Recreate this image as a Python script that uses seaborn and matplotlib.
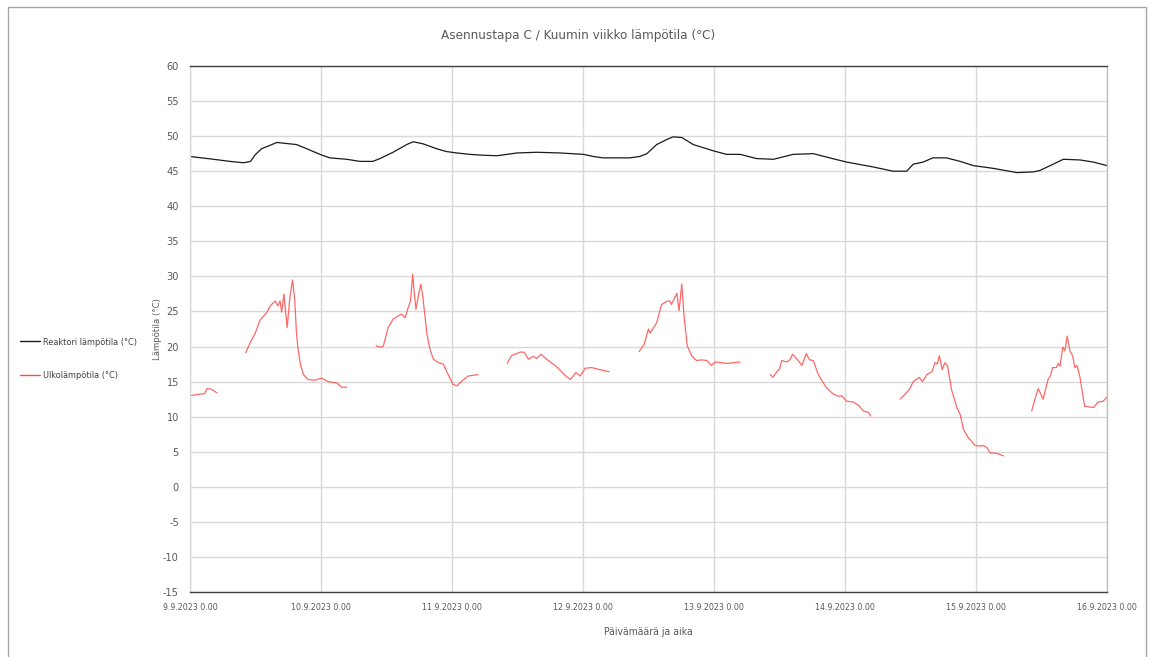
import matplotlib
matplotlib.use("Agg")
import matplotlib.pyplot as plt
import matplotlib.dates as mdates
from matplotlib import font_manager
from matplotlib.lines import Line2D
from matplotlib.patches import Rectangle
import pandas as pd
import seaborn as sns

# Start of the measurement week
START = pd.Timestamp("2023-09-09 00:00")

# Reactor temperature: hours since start and °C
reactor_hours = [0, 4.3, 7.3, 9.8, 11.1, 11.9, 13.1, 14.7, 15.9, 18.3, 19.5, 21.4, 23.8,
                 25.6, 28.7, 31.1, 33.5, 34.8, 37.2, 39.7, 40.9, 42.7, 45.2, 47.0, 48.9,
                 51.3, 53.1, 56.2, 59.9, 63.5, 67.8, 72.1, 73.9, 75.7, 77.5, 80.6, 82.4,
                 83.7, 85.5, 87.3, 88.5, 90.1, 92.2, 95.9, 98.3, 100.8, 103.8, 106.9,
                 110.5, 114.2, 117.2, 120.3, 125.2, 128.8, 131.3, 132.5, 134.3, 136.1,
                 138.6, 141.1, 143.5, 147.2, 151.5, 154.5, 155.7, 157.6, 160.0, 163.1,
                 165.5, 168.0]
reactor_temp = [47.1, 46.7, 46.4, 46.2, 46.4, 47.3, 48.2, 48.7, 49.1, 48.9, 48.8, 48.2, 47.4,
                46.9, 46.7, 46.4, 46.4, 46.8, 47.7, 48.8, 49.2, 48.9, 48.2, 47.8, 47.6,
                47.4, 47.3, 47.2, 47.6, 47.7, 47.6, 47.4, 47.1, 46.9, 46.9, 46.9, 47.1,
                47.5, 48.8, 49.5, 49.9, 49.8, 48.8, 47.9, 47.4, 47.4, 46.8, 46.7,
                47.4, 47.5, 46.9, 46.3, 45.6, 45.0, 45.0, 46.0, 46.3, 46.9,
                46.9, 46.4, 45.8, 45.4, 44.8, 44.9, 45.1, 45.8, 46.7, 46.6,
                46.3, 45.8]

# Outdoor temperature, logged in separate runs (one list per run)
outdoor_hours = [
    [0, 0.9, 1.8, 2.7, 3.1, 4.0, 4.9],
    [10.2, 11.0, 11.9, 12.8, 14.1, 14.7, 15.6, 16.1, 16.5, 16.8, 17.2, 17.8, 18.3, 18.8,
     19.2, 19.5, 19.8, 20.3, 20.8, 21.6, 22.9, 24.1, 25.3, 26.9, 27.8, 28.7],
    [34.1, 34.8, 35.4, 36.3, 37.2, 38.2, 38.8, 39.4, 40.0, 40.4, 40.8, 41.1, 41.4, 41.9,
     42.3, 42.7, 43.4, 44.0, 44.6, 45.5, 46.4, 47.3, 48.2, 48.9, 49.8, 51.0, 52.8],
    [58.1, 58.9, 59.5, 60.5, 61.2, 62.0, 62.9, 63.5, 64.3, 65.3, 67.2, 68.7, 69.7, 70.7,
     71.5, 72.4, 73.6, 75.1, 76.8],
    [82.3, 83.2, 84.0, 84.3, 85.5, 86.4, 87.3, 87.9, 88.2, 89.2, 89.6, 90.1, 90.5, 91.1,
     91.9, 92.8, 93.7, 94.7, 95.5, 96.2, 98.3, 100.8],
    [106.3, 106.8, 107.5, 108.0, 108.4, 109.3, 109.9, 110.4, 111.2, 112.1, 112.9, 113.5,
     114.2, 115.1, 116.6, 117.9, 118.8, 119.4, 120.3, 121.5, 122.5, 123.4, 124.3, 124.7],
    [130.1, 131.0, 131.9, 132.5, 133.6, 134.2, 135.0, 135.9, 136.5, 136.9, 137.3, 137.8,
     138.3, 138.8, 139.5, 140.5, 141.1, 141.7, 142.6, 143.8, 144.7, 145.3, 146.0, 146.6,
     147.5, 148.1, 149.0],
    [154.2, 154.8, 155.4, 156.3, 157.2, 157.7, 158.0, 158.7, 159.1, 159.4, 159.9, 160.3,
     160.7, 161.2, 161.7, 162.1, 162.5, 163.0, 163.9, 164.6, 165.5, 166.4, 167.3, 168.0],
]
outdoor_temp = [
    [13.0, 13.1, 13.2, 13.3, 14.0, 13.9, 13.4],
    [19.1, 20.5, 21.8, 23.7, 24.9, 25.8, 26.5, 25.8, 26.5, 24.9, 27.5, 22.7, 27.0, 29.5,
     26.5, 22.0, 19.6, 17.2, 16.0, 15.3, 15.2, 15.5, 15.0, 14.8, 14.2, 14.2],
    [20.1, 19.9, 20.0, 22.7, 23.9, 24.4, 24.6, 24.1, 25.6, 26.5, 30.3, 27.5, 25.3, 27.5,
     28.9, 26.8, 21.8, 19.5, 18.2, 17.7, 17.5, 16.0, 14.6, 14.4, 15.1, 15.8, 16.0],
    [17.6, 18.7, 18.9, 19.2, 19.2, 18.2, 18.6, 18.3, 18.9, 18.2, 17.1, 15.9, 15.3, 16.3,
     15.8, 16.9, 17.0, 16.7, 16.4],
    [19.3, 20.3, 22.5, 21.9, 23.4, 26.0, 26.4, 26.5, 26.0, 27.6, 25.1, 28.9, 24.4, 20.1,
     18.7, 18.0, 18.1, 18.0, 17.3, 17.8, 17.6, 17.8],
    [16.0, 15.6, 16.4, 16.8, 18.0, 17.8, 18.1, 18.9, 18.2, 17.3, 19.0, 18.1,
     18.0, 16.0, 14.1, 13.2, 12.9, 13.0, 12.2, 12.1, 11.6, 10.8, 10.6, 10.1],
    [12.5, 13.2, 14.0, 15.0, 15.6, 15.0, 16.0, 16.4, 17.7, 17.5, 18.7, 16.7,
     17.7, 17.2, 13.9, 11.3, 10.3, 8.2, 7.0, 5.9, 5.8, 5.9, 5.6, 4.8,
     4.8, 4.7, 4.4],
    [10.8, 12.5, 14.0, 12.5, 15.3, 15.9, 17.0, 17.0, 17.6, 17.2, 19.9, 19.4,
     21.5, 19.4, 18.7, 17.0, 17.3, 15.8, 11.5, 11.4, 11.3, 12.1, 12.2, 12.8],
]

Y_TICKS = list(range(-15, 61, 5))
TITLE = "Asennustapa C / Kuumin viikko lämpötila (°C)"
XLABEL = "Päivämäärä ja aika"
YLABEL = "Lämpötila (°C)"
LABEL_REACTOR = "Reaktori lämpötila (°C)"
LABEL_OUTDOOR = "Ulkolämpötila (°C)"

# Build tidy frames
reactor_df = pd.DataFrame({
    "aika": START + pd.to_timedelta(reactor_hours, unit="h"),
    "lampotila": reactor_temp,
})
rows = []
for run, (hh, tt) in enumerate(zip(outdoor_hours, outdoor_temp)):
    for h, t in zip(hh, tt):
        rows.append({"aika": START + pd.Timedelta(hours=h), "lampotila": t, "ajo": run})
outdoor_df = pd.DataFrame(rows)

sns.set_theme(style="white")
# Prefer a narrow face for the compact labels when one is available
names = {f.name for f in font_manager.fontManager.ttflist}
narrow = [n for n in ("Liberation Sans Narrow", "DejaVu Sans Condensed") if n in names]
plt.rcParams["font.family"] = narrow + ["DejaVu Sans"]
plt.rcParams["font.stretch"] = "condensed"
plt.rcParams["axes.unicode_minus"] = False
TEXT_C = "#595959"

fig = plt.figure(figsize=(11.49, 6.57), dpi=100)
ax = fig.add_axes([190 / 1149, 1 - 592 / 657, (1107 - 190) / 1149, (592 - 66) / 657])

sns.lineplot(data=reactor_df, x="aika", y="lampotila", ax=ax, color="#1a1a1a",
             linewidth=0.9, estimator=None, legend=False)
sns.lineplot(data=outdoor_df, x="aika", y="lampotila", units="ajo", estimator=None,
             ax=ax, color="#ff4d4d", alpha=0.85, linewidth=0.9, legend=False)

ax.set_ylim(-15, 60)
ax.set_yticks(Y_TICKS)
ax.set_xlim(START, START + pd.Timedelta(days=7))
ax.xaxis.set_major_locator(mdates.DayLocator())
ax.xaxis.set_major_formatter(
    plt.FuncFormatter(lambda v, _: (lambda d: f"{d.day}.{d.month}.{d.year} 0.00")(mdates.num2date(v)))
)
ax.grid(True, color="#d9d9d9", linewidth=1.0)
ax.set_axisbelow(True)
ax.tick_params(axis="both", length=0, colors=TEXT_C)
ax.tick_params(axis="y", pad=8, labelsize=7.8)
ax.tick_params(axis="x", pad=8, labelsize=6.3)

ax.spines["top"].set_color("#404040")
ax.spines["bottom"].set_color("#404040")
ax.spines["left"].set_color("#d9d9d9")
ax.spines["right"].set_color("#bfbfbf")
for s in ax.spines.values():
    s.set_linewidth(1.0)

ax.set_xlabel(XLABEL, color=TEXT_C, fontsize=7.5, labelpad=11)
ax.set_ylabel(YLABEL, color=TEXT_C, fontsize=6.8, labelpad=1)

fig.text(578 / 1149, 1 - 35 / 657, TITLE, ha="center", va="center",
         fontsize=9.6, color=TEXT_C)

handles = [Line2D([], [], color="#1a1a1a", linewidth=1.0),
           Line2D([], [], color="#ff4d4d", linewidth=1.0)]
fig.legend(handles, [LABEL_REACTOR, LABEL_OUTDOOR], loc="center left",
           bbox_to_anchor=(12 / 1149, 1 - 359 / 657), frameon=False,
           fontsize=6.6, labelcolor="#404040", handlelength=2.2, handletextpad=0.3,
           labelspacing=2.7)

# Outer frame of the chart
fig.patches.append(Rectangle((8 / 1149, -0.01), (1146 - 8) / 1149, 1 - 7 / 657 + 0.01,
                             transform=fig.transFigure, fill=False,
                             edgecolor="#a6a6a6", linewidth=1.0))

fig.savefig("out.png", dpi=100)
